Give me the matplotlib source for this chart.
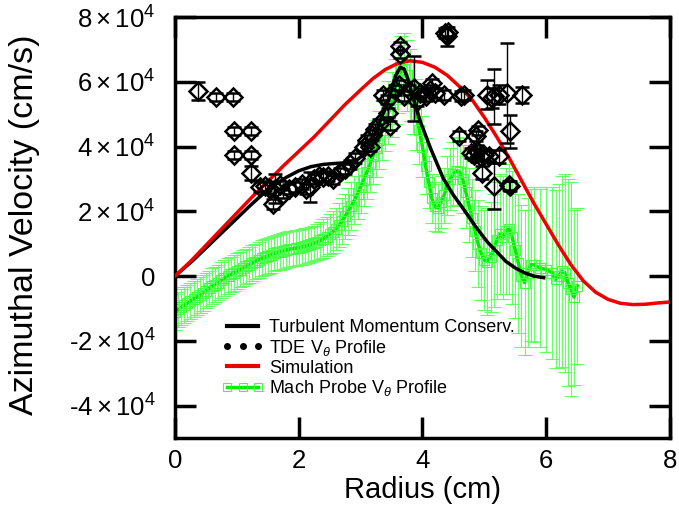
import matplotlib
matplotlib.use("Agg")
import matplotlib.pyplot as plt
from matplotlib.lines import Line2D

plt.rcParams['font.family'] = ['Liberation Sans', 'DejaVu Sans']
plt.rcParams['mathtext.fontset'] = 'custom'
plt.rcParams['mathtext.rm'] = 'Liberation Sans'
plt.rcParams['mathtext.it'] = 'Liberation Sans:italic'

# simulation profile (cm, cm/s)
sim_r = [0.0, 0.25, 0.5, 0.75, 1.0, 1.25, 1.5, 1.75, 2.0, 2.25, 2.5, 2.75,
         3.0, 3.2, 3.4, 3.6, 3.8, 4.0, 4.2, 4.4, 4.6, 4.8, 5.0, 5.2, 5.4,
         5.6, 5.8, 6.0, 6.2, 6.4, 6.6, 6.8, 7.0, 7.2, 7.4, 7.6, 7.8, 8.0]
sim_v = [0, 4500, 9500, 14500, 19500, 24500, 29200, 34000, 38500, 43000,
         48000, 53000, 57500, 61000, 63800, 65700, 66500, 66000, 64500,
         62000, 58500, 54500, 49000, 43000, 36500, 29500, 22500, 16000,
         9500, 3500, -1500, -5000, -7200, -8400, -8800, -8700, -8300, -8000]

# turbulent momentum conservation model
tmc_r = [0.0, 0.3, 0.6, 0.9, 1.2, 1.4, 1.6, 1.8, 2.0, 2.2, 2.4, 2.6, 2.8,
         2.95, 3.05, 3.15, 3.27, 3.35, 3.43, 3.5, 3.57, 3.64, 3.7, 3.76,
         3.82, 3.89, 3.96, 4.02, 4.13, 4.24, 4.34, 4.5, 4.67, 4.85, 5.05,
         5.2, 5.35, 5.5, 5.65, 5.8, 5.96]
tmc_v = [0, 5000, 10500, 16000, 21500, 25000, 28000, 30500, 32500, 33800,
         34500, 34800, 35000, 36000, 37500, 41000, 45500, 49500, 53000,
         57500, 62000, 64500, 64000, 61000, 57000, 52500, 48000, 45000,
         39500, 34500, 30000, 25000, 20500, 15500, 10500, 7500, 4500, 2500,
         1000, 0, -500]

# TDE measurements
tde_r = [0.38, 0.67, 0.93, 0.95, 1.23, 0.95, 1.23, 1.23, 1.38, 1.46, 1.52,
         1.59, 1.62, 1.70, 1.75, 1.85, 1.94, 2.05, 2.12, 2.19, 2.25, 2.32,
         2.40, 2.48, 2.56, 2.66, 2.75, 2.83, 2.91, 3.05, 3.10, 3.16, 3.18,
         3.24, 3.30, 3.37, 3.43, 3.45, 3.48, 3.55, 3.64, 3.64, 3.62, 3.70,
         3.78, 3.86, 3.91, 3.96, 4.05, 4.12, 4.16, 4.20, 4.35, 4.37, 4.40,
         4.42, 4.62, 4.67, 4.59, 4.86, 4.90, 4.78, 4.83, 4.88, 4.93, 5.00,
         4.97, 5.08, 5.24, 5.16, 5.42, 5.40, 5.05, 5.12, 5.16, 5.24, 5.37,
         5.42, 5.61]
tde_v = [57200, 55300, 55300, 44700, 44700, 37500, 37500, 31900, 27500,
         27800, 27200, 22200, 27000, 28000, 25500, 27000, 27500, 28500,
         27000, 27500, 30000, 31000, 30500, 31000, 30000, 32000, 33000,
         34500, 36500, 40000, 42000, 40000, 43500, 45500, 47000, 56000,
         54500, 50500, 46500, 57500, 71000, 68500, 59000, 55500, 57500,
         58000, 54000, 56500, 55500, 57500, 59500, 56500, 56000, 75000,
         74000, 75500, 55500, 56000, 43200, 43200, 45000, 38000, 37500,
         38500, 37000, 37500, 31900, 37000, 37000, 27800, 27800, 28000,
         56000, 55000, 55500, 56000, 56500, 44700, 55800]
tde_err = [2800, 1200, 1200, 1200, 1200, 1200, 1200, 2200, 1500, 1500,
           2000, 1500, 4500, 1500, 1500, 1500, 1500, 1500, 1500, 4500,
           1500, 1500, 1500, 1500, 1500, 1500, 1500, 1500, 1500, 1500,
           1500, 1500, 1500, 1500, 1500, 1500, 1500, 1500, 1500, 1500,
           1200, 1200, 1500, 1500, 1500, 10000, 1500, 1500, 1500, 1500,
           1500, 1500, 1500, 1500, 3000, 1500, 1500, 1500, 1500, 1500,
           1500, 1500, 1500, 2000, 1500, 1500, 2000, 1500, 2000, 7000,
           1500, 1500, 4500, 3000, 8500, 3000, 15500, 5000, 2500]

# Mach probe measurements
mach_r = [0.0, 0.05, 0.1, 0.15, 0.2, 0.25, 0.3, 0.35, 0.4, 0.45, 0.5, 0.55,
          0.6, 0.65, 0.7, 0.75, 0.8, 0.85, 0.9, 0.95, 1.0, 1.05, 1.1, 1.15,
          1.2, 1.25, 1.3, 1.35, 1.4, 1.45, 1.5, 1.55, 1.6, 1.65, 1.7, 1.75,
          1.8, 1.85, 1.9, 1.95, 2.0, 2.05, 2.1, 2.15, 2.2, 2.25, 2.3, 2.35,
          2.4, 2.45, 2.5, 2.55, 2.6, 2.65, 2.7, 2.75, 2.8, 2.85, 2.9, 2.95,
          3.0, 3.05, 3.1, 3.15, 3.2, 3.25, 3.3, 3.35, 3.4, 3.45, 3.5, 3.55,
          3.6, 3.65, 3.7, 3.75, 3.8, 3.85, 3.9, 3.95, 4.0, 4.05, 4.1, 4.15,
          4.2, 4.25, 4.3, 4.35, 4.4, 4.45, 4.5, 4.55, 4.6, 4.65, 4.7, 4.75,
          4.8, 4.85, 4.9, 4.95, 5.0, 5.05, 5.1, 5.15, 5.2, 5.25, 5.3, 5.35,
          5.4, 5.45, 5.5, 5.55, 5.6, 5.65, 5.7, 5.75, 5.8, 5.9, 6.0, 6.1,
          6.15, 6.2, 6.25, 6.3, 6.35, 6.4, 6.45, 6.5]
mach_v = [-11000, -10300, -9600, -9000, -8400, -7700, -7000, -6500, -5900,
          -5200, -4500, -3800, -3100, -2600, -2000, -1300, -600, 0, 500,
          1000, 1500, 2000, 2500, 3000, 3500, 4000, 4500, 5000, 5500, 5900,
          6200, 6600, 7000, 7300, 7500, 7800, 8000, 8300, 8500, 8600, 8800,
          9000, 9200, 9500, 9800, 10100, 10500, 11000, 11500, 12200, 13000,
          13700, 14500, 15700, 17000, 18500, 20000, 21700, 23500, 25500,
          27500, 29700, 32000, 34500, 37000, 39500, 42000, 45000, 48000,
          50500, 53000, 57000, 61000, 63500, 64000, 62000, 59000, 55000,
          50000, 45000, 40000, 34000, 29000, 24000, 21500, 21000, 23000,
          25000, 28000, 30000, 31500, 32500, 32000, 30000, 26000, 22000,
          18000, 14000, 10000, 7000, 5000, 4500, 6000, 8000, 11000, 13000,
          12000, 14000, 14500, 12000, 8000, 4000, 0, -2000, 1000, 3500,
          3500, 2500, 2000, 1000, -1000, 0, 1500, 1000, -2000, -4000, -6500,
          -3000]
mach_err = [5500, 5500, 5500, 5500, 5500, 5500, 5500, 5500, 5500, 5500,
            5500, 5500, 5500, 5500, 5500, 5500, 5500, 5500, 5500, 5500,
            5500, 5500, 5500, 5500, 5500, 5500, 5500, 5500, 5500, 5500,
            5500, 5500, 5500, 5500, 5500, 5500, 5500, 5500, 5500, 5500,
            5500, 5500, 5500, 5500, 5500, 5500, 5500, 5800, 6000, 6000,
            6200, 6500, 6500, 6800, 7000, 7000, 7200, 7500, 7500, 7800,
            8000, 8000, 8200, 8500, 8500, 8800, 9000, 9200, 9500, 9800,
            10000, 10000, 10500, 10500, 11000, 11000, 11000, 11000, 11000,
            10500, 9500, 8500, 8000, 7500, 7500, 7500, 8000, 8500, 9000,
            9500, 10000, 10500, 10500, 10500, 11000, 11500, 12000, 12500,
            13500, 14500, 15500, 16500, 17000, 17500, 18000, 18500, 19000,
            19500, 20000, 20500, 21000, 21500, 22000, 22500, 23000, 23500,
            24000, 24500, 25500, 26500, 27500, 28500, 29500, 30500, 32000,
            33000, 27000, 24000]

yticks = [-40000, -20000, 0, 20000, 40000, 60000, 80000]
ytick_labels = ['-$\\mathregular{4\\times10^{4}}$',
                '-$\\mathregular{2\\times10^{4}}$', '0',
                '$\\mathregular{2\\times10^{4}}$',
                '$\\mathregular{4\\times10^{4}}$',
                '$\\mathregular{6\\times10^{4}}$',
                '$\\mathregular{8\\times10^{4}}$']
xticks = [0, 2, 4, 6, 8]

fig = plt.figure(figsize=(6.79, 5.08), dpi=100)
ax = fig.add_axes([0.2577, 0.1378, 0.7290, 0.8287])

ax.errorbar(mach_r, mach_v, yerr=mach_err, color='#00ee00', lw=2.5,
            marker='s', ms=7.5, mfc='none', mec='#44ff44', mew=0.8,
            ecolor='#66ff66', elinewidth=0.8, capsize=5, capthick=0.8,
            zorder=1)
ax.plot(tmc_r, tmc_v, color='black', lw=2.5, zorder=2)
ax.plot(sim_r, sim_v, color='#ee0000', lw=2.5, zorder=3)
ax.errorbar(tde_r, tde_v, yerr=tde_err, fmt='D', ms=9.5, mfc='none',
            mec='black', mew=1.8, ecolor='black', elinewidth=1.0,
            capsize=5, capthick=1.0, zorder=4)

ax.set_xlim(0, 8)
ax.set_ylim(-50000, 80000)
ax.set_xticks(xticks)
ax.set_yticks(yticks)
ax.set_yticklabels(ytick_labels)
ax.tick_params(direction='in', length=15, width=2.5, top=True, right=True,
               labelsize=18.5, pad=8)
ax.tick_params(axis='y', pad=14)
for sp in ax.spines.values():
    sp.set_linewidth(2.5)

ax.set_xlabel('Radius (cm)', fontsize=21, labelpad=2)
ax.set_ylabel('Azimuthal Velocity (cm/s)', fontsize=24.5)
ax.yaxis.set_label_coords(-0.272, 0.506)

handles = [
    Line2D([], [], color='black', lw=3),
    Line2D([], [], color='black', ls='none', marker='o', ms=4),
    Line2D([], [], color='#ee0000', lw=3),
    Line2D([], [], color='#00ee00', lw=2.5, marker='s', ms=6, mfc='none',
           mec='#44ff44', mew=0.8),
]
labels = ['Turbulent Momentum Conserv.',
          'TDE V$_{\\theta}$ Profile',
          'Simulation',
          'Mach Probe V$_{\\theta}$ Profile']
ax.legend(handles, labels, loc='upper left', bbox_to_anchor=(0.08, 0.30),
          frameon=False, fontsize=13, numpoints=3, handlelength=2.3,
          handletextpad=0.3, labelspacing=0.1, borderaxespad=0)

fig.savefig('out.png', dpi=100)
